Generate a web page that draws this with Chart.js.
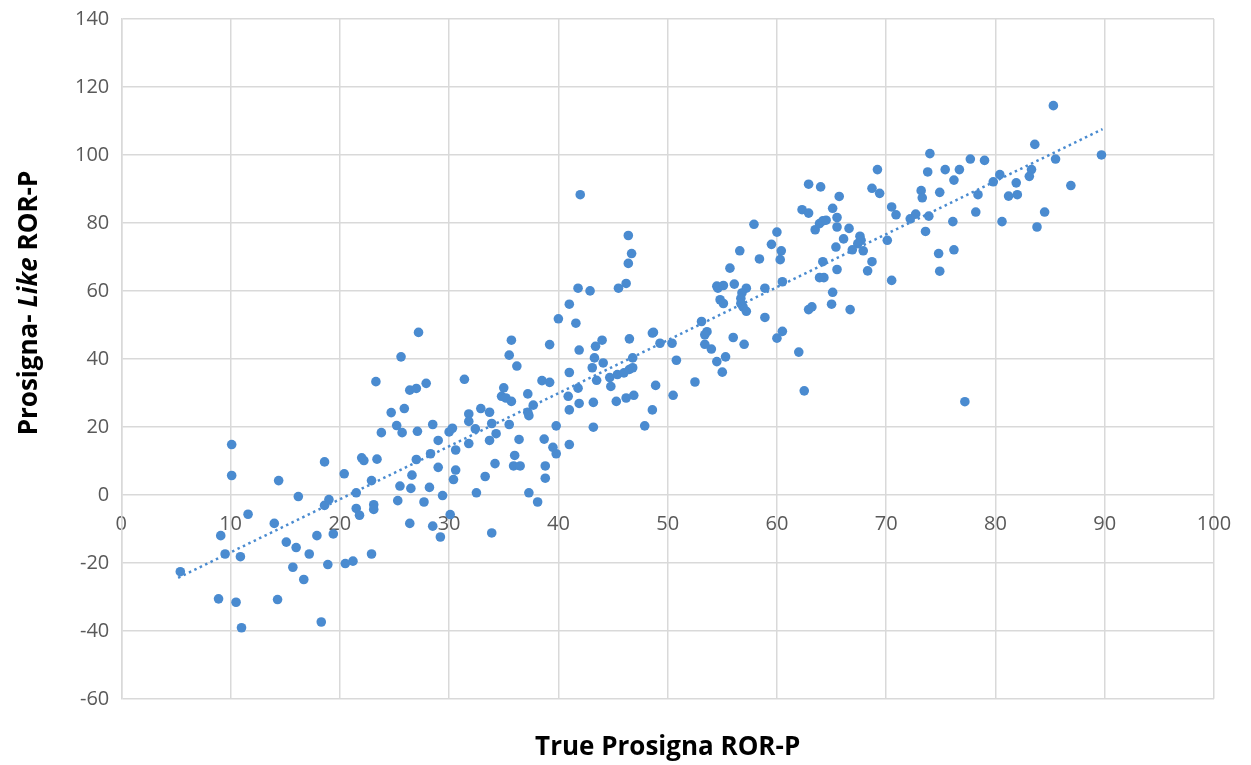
<!DOCTYPE html>
<html>
<head>
<meta charset="utf-8">
<script src="https://cdn.jsdelivr.net/npm/chart.js@4.4.1/dist/chart.umd.min.js"></script>
<style>
  html, body { margin: 0; padding: 0; background: #ffffff; }
  #wrap { width: 1251px; height: 765px; position: relative; }
</style>
</head>
<body>
<div id="wrap"><canvas id="c" width="1251" height="765"></canvas></div>
<script>
// ---- Data ----
const trueRorP = [
  5.4, 8.9, 9.1, 9.5, 10.1, 10.1, 10.5, 10.9, 11.0, 11.6,
  14.0, 14.4, 14.3, 15.1, 15.7, 16.0, 16.2, 16.7, 17.2, 17.9,
  18.3, 18.6, 18.6, 18.9, 19.0, 19.4, 20.4, 20.5, 21.2, 21.5,
  21.5, 21.8, 22.0, 22.2, 22.9, 22.9, 23.1, 23.1, 23.4, 23.8,
  24.7, 25.2,
  27.2, 25.6, 23.3, 26.4, 27.0, 27.9, 25.9,
  25.7, 27.1, 28.5, 25.5, 25.3, 26.5, 26.6, 27.0, 26.4, 27.7,
  28.2, 28.3, 28.5, 29.0, 29.0, 29.2, 29.4, 30.0, 30.3, 30.1,
  30.4, 30.6, 30.6, 31.8, 31.8, 31.8, 32.4, 32.5, 32.9, 33.3,
  33.7, 33.7, 33.9, 33.9, 34.3, 34.2, 35.5, 36.0, 35.9, 36.5,
  36.4, 37.2, 37.3, 37.7, 37.3, 38.1, 38.7, 38.8, 38.8, 39.5,
  39.8, 39.8, 41.0, 41.0, 41.9, 43.2, 43.2, 45.3, 47.9, 48.6,
  31.4, 35.7, 35.5, 36.2, 35.0, 34.8, 35.2, 35.7, 37.2, 38.5,
  39.2, 39.2, 40.0, 41.0, 41.8, 42.9, 41.6, 41.9, 41.0, 40.9,
  41.8, 43.3, 43.4, 44.0, 43.1, 43.5, 44.1, 44.7, 45.4, 46.0,
  46.5, 46.8, 44.8, 46.2, 46.9, 45.5, 46.2, 46.4, 46.7, 46.4,
  46.5, 46.8, 48.6, 48.7, 49.3, 50.4, 50.8, 48.9, 50.5, 42.0,
  69.2, 62.9, 64.0, 65.7, 68.7, 69.4, 70.5, 70.9, 62.3, 62.9,
  65.1, 65.5, 63.5, 63.9, 64.2, 64.5, 65.5, 66.6, 66.1, 65.4,
  67.6, 67.7, 67.4, 66.9, 67.9, 70.1, 70.5, 68.7, 68.3, 64.2,
  63.9, 64.3, 65.5, 65.1, 65.0, 66.7, 62.9, 63.2, 62.0, 62.5,
  57.9, 60.0, 59.5, 60.4, 60.3, 56.6, 58.4, 55.7, 56.1, 54.5,
  54.6, 55.1, 54.8, 55.1, 57.2, 56.8, 56.7, 56.7, 56.9, 57.2,
  58.9, 60.5, 58.9, 53.1, 53.6, 53.4, 53.4, 54.0, 54.5, 55.3,
  55.0, 56.0, 57.0, 60.0, 60.5, 52.5,
  85.3, 83.6, 89.7, 85.5, 74.0, 77.7, 79.0, 73.8, 75.4, 76.7,
  76.2, 80.4, 79.8, 83.3, 83.1, 81.9, 81.2, 82.0, 78.4, 86.9,
  73.2, 73.3, 74.9, 72.2, 72.7, 73.9, 78.2, 76.1, 80.6, 84.5,
  83.8, 73.6, 74.8, 76.2, 74.9, 77.2
];
const likeRorP = [
  -22.6, -30.6, -12.0, -17.4, 14.8, 5.7, -31.6, -18.2, -39.1, -5.7,
  -8.4, 4.2, -30.8, -13.9, -21.3, -15.5, -0.5, -24.9, -17.4, -12.0,
  -37.4, 9.7, -3.1, -20.5, -1.4, -11.5, 6.2, -20.2, -19.5, 0.6,
  -4.0, -6.0, 10.9, 10.1, 4.2, -17.4, -2.9, -4.3, 10.5, 18.3,
  24.2, 20.4,
  47.8, 40.6, 33.3, 30.8, 31.3, 32.8, 25.4,
  18.3, 18.7, 20.7, 2.6, -1.7, 1.9, 5.8, 10.4, -8.4, -2.1,
  2.2, 12.1, -9.2, 16.0, 8.1, -12.4, -0.2, 18.5, 19.6, -5.8,
  4.5, 13.2, 7.3, 23.8, 21.6, 15.1, 19.4, 0.6, 25.4, 5.4,
  24.3, 16.0, 21.0, -11.2, 18.0, 9.2, 20.7, 11.6, 8.5, 8.5,
  16.3, 24.3, 23.3, 26.4, 0.6, -2.1, 16.4, 8.5, 4.9, 14.0,
  12.1, 20.3, 25.0, 14.8, 26.9, 27.2, 19.9, 27.5, 20.3, 25.0,
  34.0, 45.5, 41.1, 37.9, 31.5, 29.0, 28.5, 27.5, 29.7, 33.6,
  33.1, 44.2, 51.8, 56.1, 60.8, 60.0, 50.5, 42.6, 36.0, 29.0,
  31.4, 40.3, 43.7, 45.5, 37.4, 33.7, 38.8, 34.5, 35.4, 35.9,
  36.9, 37.4, 31.9, 28.5, 29.3, 60.8, 62.2, 68.1, 71.0, 76.3,
  45.9, 40.3, 47.6, 47.8, 44.6, 44.6, 39.6, 32.2, 29.3, 88.3,
  95.7, 91.4, 90.6, 87.8, 90.2, 88.7, 84.7, 82.4, 83.9, 82.9,
  84.3, 81.6, 78.0, 79.8, 80.6, 80.8, 78.8, 78.4, 75.3, 72.9,
  76.1, 74.9, 73.9, 72.1, 71.8, 74.9, 63.1, 68.6, 65.9, 68.6,
  63.9, 63.9, 66.3, 59.6, 56.1, 54.5, 54.5, 55.3, 42.0, 30.6,
  79.6, 77.3, 73.7, 71.8, 69.2, 71.8, 69.4, 66.7, 62.0, 61.4,
  60.8, 61.6, 57.4, 56.3, 60.8, 59.4, 57.8, 56.3, 55.3, 54.0,
  60.8, 62.7, 52.2, 51.0, 48.0, 47.1, 44.3, 42.9, 39.2, 40.6,
  36.1, 46.3, 44.3, 46.1, 48.1, 33.2,
  114.5, 103.1, 100.0, 98.8, 100.4, 98.8, 98.4, 95.0, 95.7, 95.7,
  92.6, 94.2, 92.1, 95.7, 93.7, 91.8, 87.9, 88.3, 88.3, 91.0,
  89.5, 87.4, 89.0, 81.2, 82.6, 82.0, 83.2, 80.4, 80.4, 83.2,
  78.8, 77.5, 71.0, 72.1, 65.8, 27.4
];
// Linear trendline end points as drawn in the picture
const trendX = [5.2, 89.8];
const trendY = [-24.4, 107.6];
// Axis tick values
const xTicks = [0, 10, 20, 30, 40, 50, 60, 70, 80, 90, 100];
const yTicks = [-60, -40, -20, 0, 20, 40, 60, 80, 100, 120, 140];

const xTitle = 'True Prosigna ROR-P';
const yTitleParts = ['Prosigna- ', 'Like', ' ROR-P'];

const BLUE = '#4a8bd0';
const GRID = '#d9d9d9';

const points = trueRorP.map((x, i) => ({ x: x, y: likeRorP[i] }));
const trend = trendX.map((x, i) => ({ x: x, y: trendY[i] }));

const yTitlePlugin = {
  id: 'yTitleMixed',
  afterDraw(chart) {
    const ctx = chart.ctx;
    const fonts = [
      'bold 26px "Open Sans", sans-serif',
      'italic bold 26px "Open Sans", sans-serif',
      'bold 26px "Open Sans", sans-serif'
    ];
    ctx.save();
    let total = 0;
    const widths = yTitleParts.map((t, i) => { ctx.font = fonts[i]; const w = ctx.measureText(t).width; total += w; return w; });
    ctx.translate(30, 303);
    ctx.rotate(-Math.PI / 2);
    ctx.fillStyle = '#000000';
    ctx.textBaseline = 'middle';
    ctx.textAlign = 'left';
    let pos = -total / 2;
    yTitleParts.forEach((t, i) => {
      ctx.font = fonts[i];
      ctx.fillText(t, pos, 0);
      pos += widths[i];
    });
    ctx.restore();
  }
};

new Chart(document.getElementById('c'), {
  type: 'scatter',
  data: {
    datasets: [
      {
        label: 'Trend',
        type: 'line',
        data: trend,
        borderColor: BLUE,
        borderWidth: 2.5,
        borderDash: [2.5, 3.5],
        pointRadius: 0,
        fill: false,
        order: 0
      },
      {
        label: 'Samples',
        data: points,
        backgroundColor: BLUE,
        borderColor: BLUE,
        borderWidth: 0,
        pointRadius: 4.8,
        order: 1
      }
    ]
  },
  options: {
    responsive: false,
    animation: false,
    layout: { padding: { top: 19, right: 37, left: 63, bottom: 0 } },
    plugins: {
      legend: { display: false },
      tooltip: { enabled: false },
      title: {
        display: true,
        position: 'bottom',
        fullSize: false,
        text: xTitle,
        color: '#000000',
        font: { family: '"Open Sans", sans-serif', size: 26, weight: 'bold' },
        padding: { top: 33, bottom: 2 }
      }
    },
    scales: {
      x: {
        type: 'linear',
        position: { y: 0 },
        min: 0, max: 100,
        afterBuildTicks: (s) => { s.ticks = xTicks.map(v => ({ value: v })); },
        grid: { color: GRID, lineWidth: 1.5, drawTicks: false },
        border: { display: false },
        ticks: {
          padding: 17,
          color: '#595959',
          font: { family: '"Open Sans", sans-serif', size: 20 },
          maxRotation: 0
        }
      },
      y: {
        type: 'linear',
        min: -60, max: 140,
        afterBuildTicks: (s) => { s.ticks = yTicks.map(v => ({ value: v })); },
        afterFit: (s) => { s.paddingTop = 12; s.paddingBottom = 12; },
        grid: { color: GRID, lineWidth: 1.5, drawTicks: false },
        border: { color: GRID, width: 1.5 },
        ticks: {
          padding: 12,
          color: '#595959',
          font: { family: '"Open Sans", sans-serif', size: 20 }
        }
      }
    }
  },
  plugins: [yTitlePlugin]
});
</script>
</body>
</html>
